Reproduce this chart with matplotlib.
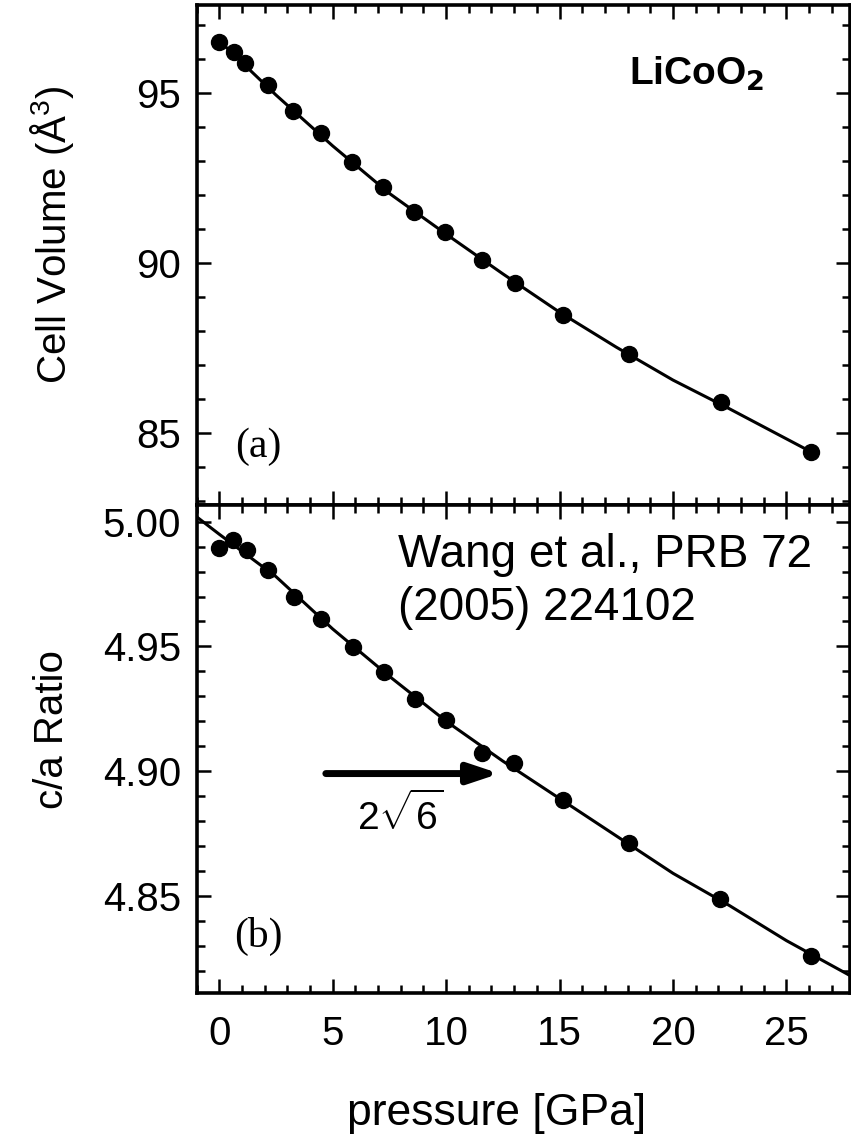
import matplotlib
matplotlib.use("Agg")
import matplotlib.pyplot as plt
from matplotlib.ticker import MultipleLocator, FormatStrFormatter

# ── Data ────────────────────────────────────────────────────────────────
# (a) cell volume vs pressure
pressure_a = [0.0, 0.66, 1.13, 2.13, 3.24, 4.48, 5.84, 7.21, 8.57, 9.94,
              11.58, 13.03, 15.16, 18.07, 22.12, 26.08]
volume = [96.52, 96.23, 95.88, 95.24, 94.49, 93.82, 92.98, 92.24, 91.51,
          90.92, 90.10, 89.40, 88.46, 87.33, 85.90, 84.43]

# fitted curve for (a)
fit_p_a = [0.0, 2.5, 5.0, 7.5, 10.0, 12.5, 15.0, 17.5, 20.0, 22.5, 26.1]
fit_volume = [96.55, 94.95, 93.45, 92.05, 90.85, 89.68, 88.55, 87.52,
              86.55, 85.70, 84.43]

# (b) c/a ratio vs pressure
pressure_b = [0.0, 0.60, 1.22, 2.13, 3.30, 4.48, 5.89, 7.25, 8.62, 9.98,
              11.58, 12.99, 15.16, 18.07, 22.06, 26.10]
ratio = [4.9893, 4.9927, 4.9886, 4.9806, 4.9699, 4.9608, 4.9499, 4.9398,
         4.9288, 4.9205, 4.9071, 4.9033, 4.8884, 4.8710, 4.8485, 4.8260]

# fitted curve for (b)
fit_p_b = [-1.0, 0.0, 2.5, 5.0, 7.5, 10.0, 12.5, 15.0, 17.5, 20.0, 22.5,
           25.0, 27.8]
fit_ratio = [5.002, 4.995, 4.978, 4.957, 4.938, 4.920, 4.904, 4.889,
             4.874, 4.859, 4.846, 4.832, 4.818]

# arrow marking 2*sqrt(6)
arrow_start, arrow_end = 4.7, 12.35
ideal_ratio = 4.899

SANS = "Liberation Sans"
SERIF = "Liberation Serif"
plt.rcParams["font.family"] = SANS
plt.rcParams["mathtext.fontset"] = "custom"
plt.rcParams["mathtext.rm"] = SANS
plt.rcParams["mathtext.it"] = SANS

fig = plt.figure(figsize=(8.51, 11.35), dpi=100)
L, R = 196.5 / 851, 850 / 851
ax_a = fig.add_axes([L, 1 - 505 / 1135, R - L, 500 / 1135])
ax_b = fig.add_axes([L, 1 - 993 / 1135, R - L, 488 / 1135])

for ax in (ax_a, ax_b):
    for s in ax.spines.values():
        s.set_linewidth(2.6)
    ax.set_xlim(-1.0, 27.8)
    ax.xaxis.set_major_locator(MultipleLocator(5))
    ax.xaxis.set_minor_locator(MultipleLocator(1))
    ax.tick_params(which="both", direction="in", top=True, right=True,
                   width=1.8, labelsize=29)
    ax.tick_params(which="major", length=10)
    ax.tick_params(which="minor", length=6)

# ── (a) ─────────────────────────────────────────────────────────────────
ax_a.plot(fit_p_a, fit_volume, color="black", linewidth=2.2, zorder=2)
ax_a.plot(pressure_a, volume, "o", color="black", markersize=11.5, zorder=3)
ax_a.set_ylim(82.87, 97.6)
ax_a.yaxis.set_major_locator(MultipleLocator(5))
ax_a.yaxis.set_minor_locator(MultipleLocator(1))
ax_a.tick_params(axis="x", labelbottom=False)
ax_a.tick_params(axis="y", pad=11)
ax_a.set_ylabel("Cell Volume (Å$^3$)", fontsize=29, va="center")
ax_a.yaxis.set_label_coords(-0.221, 0.54)
ax_a.text(0.765, 0.862, "LiCoO$_\\mathbf{2}$", transform=ax_a.transAxes,
          fontsize=28, fontweight="bold", ha="center", va="center")
ax_a.text(0.095, 0.116, "(a)", transform=ax_a.transAxes, family=SERIF,
          fontsize=30, ha="center", va="center")

# ── (b) ─────────────────────────────────────────────────────────────────
ax_b.plot(fit_p_b, fit_ratio, color="black", linewidth=2.2, zorder=2)
ax_b.plot(pressure_b, ratio, "o", color="black", markersize=11.5, zorder=3)
ax_b.set_ylim(4.811, 5.0067)
ax_b.yaxis.set_major_locator(MultipleLocator(0.05))
ax_b.yaxis.set_minor_locator(MultipleLocator(0.01))
ax_b.yaxis.set_major_formatter(FormatStrFormatter("%.2f"))
ax_b.tick_params(axis="y", pad=11)
ax_b.tick_params(axis="x", pad=16)
ax_b.set_ylabel("c/a Ratio", fontsize=29, va="center")
ax_b.yaxis.set_label_coords(-0.221, 0.539)
ax_b.text(0.095, 0.115, "(b)", transform=ax_b.transAxes, family=SERIF,
          fontsize=30, ha="center", va="center")
ax_b.annotate("", xy=(arrow_end, ideal_ratio), xytext=(arrow_start, ideal_ratio),
              arrowprops=dict(arrowstyle="-|>,head_length=1.8,head_width=0.6",
                              color="black", linewidth=5, shrinkA=0, shrinkB=0))
ax_b.text(8.0, ideal_ratio - 0.0165, r"$2\sqrt{6}$", fontsize=28,
          ha="center", va="center")

fig.text(497 / 851, 1 - 1113 / 1135, "pressure [GPa]", fontsize=32,
         ha="center", va="center")
fig.text(398 / 851, 1 - 533 / 1135, "Wang et al., PRB 72\n(2005) 224102",
         fontsize=33, ha="left", va="top", linespacing=1.27)

plt.savefig("out.png", dpi=100)
plt.close()
